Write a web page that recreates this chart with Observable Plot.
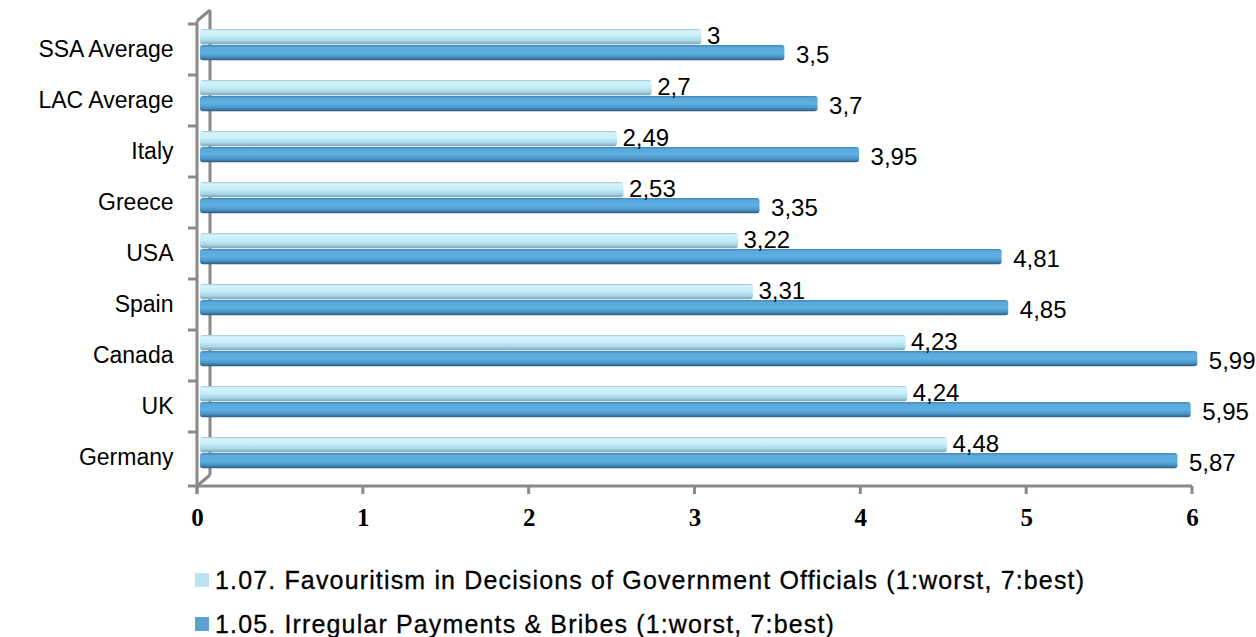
<!DOCTYPE html>
<html>
<head>
<meta charset="utf-8">
<script src="https://cdn.jsdelivr.net/npm/d3@7"></script>
<script src="https://cdn.jsdelivr.net/npm/@observablehq/plot@0.6"></script>
<style>
  body { margin: 0; background: #fff; font-family: "Liberation Sans", Arial, sans-serif; }
  #wrap { position: relative; width: 1256px; }
  #legend { position: relative; height: 92px; }
  .sw { position: absolute; width: 14px; height: 14px; }
  .lt { position: absolute; font-size: 25px; line-height: 25px; letter-spacing: 1.15px; color: #000; white-space: nowrap; -webkit-text-stroke: 0.3px #000; }
</style>
</head>
<body>
<div id="wrap"></div>
<script>
// ---- data ----
const categories = ["SSA Average", "LAC Average", "Italy", "Greece", "USA", "Spain", "Canada", "UK", "Germany"];
const favouritism = [3, 2.7, 2.49, 2.53, 3.22, 3.31, 4.23, 4.24, 4.48];
const bribes = [3.5, 3.7, 3.95, 3.35, 4.81, 4.85, 5.99, 5.95, 5.87];
const seriesNames = [
  "1.07. Favouritism in Decisions of Government Officials (1:worst, 7:best)",
  "1.05. Irregular Payments & Bribes (1:worst, 7:best)"
];
const xTicks = [0, 1, 2, 3, 4, 5, 6];

const favData = categories.map((c, i) => ({category: c, value: favouritism[i]}));
const bribeData = categories.map((c, i) => ({category: c, value: bribes[i]}));
const fmt = v => String(v).replace(".", ",");

// ---- layout ----
const W = 1256, H = 545;
const mt = 21, mb = 59, ml = 197, mr = 64;
const bw = (H - mt - mb) / categories.length;
const depthX = 13, depthY = -11;
const gray = "#8a8a8a";

const defs = () => {
  const ns = "http://www.w3.org/2000/svg";
  const d = document.createElementNS(ns, "defs");
  d.innerHTML = `
  <linearGradient id="gLight" x1="0" y1="0" x2="0" y2="1">
    <stop offset="0" stop-color="#9fc4d2"/>
    <stop offset="0.12" stop-color="#d6f4fc"/>
    <stop offset="0.45" stop-color="#c8eef9"/>
    <stop offset="0.75" stop-color="#a9d9ea"/>
    <stop offset="1" stop-color="#7d9fad"/>
  </linearGradient>
  <linearGradient id="gDark" x1="0" y1="0" x2="0" y2="1">
    <stop offset="0" stop-color="#3f86b6"/>
    <stop offset="0.15" stop-color="#5aa8dc"/>
    <stop offset="0.5" stop-color="#5fb0e3"/>
    <stop offset="0.78" stop-color="#4a94c6"/>
    <stop offset="1" stop-color="#2b5878"/>
  </linearGradient>`;
  return d;
};

const mkLine = (g, x1, y1, x2, y2) => {
  const l = document.createElementNS("http://www.w3.org/2000/svg", "line");
  l.setAttribute("x1", x1); l.setAttribute("y1", y1);
  l.setAttribute("x2", x2); l.setAttribute("y2", y2);
  l.setAttribute("stroke", gray); l.setAttribute("stroke-width", 3);
  g.appendChild(l);
};

// 3D back wall drawn through the plot's scales
const frame3d = (index, scales, values, dim) => {
  const g = document.createElementNS("http://www.w3.org/2000/svg", "g");
  const x0 = scales.x(0);
  const top = dim.marginTop, bottom = dim.height - dim.marginBottom;
  mkLine(g, x0 + depthX, top + depthY, x0 + depthX, bottom + depthY);
  mkLine(g, x0, top, x0 + depthX, top + depthY);
  mkLine(g, x0, bottom, x0 + depthX, bottom + depthY);
  return g;
};

const frontAxes = (index, scales, values, dim) => {
  const g = document.createElementNS("http://www.w3.org/2000/svg", "g");
  const x0 = scales.x(0);
  const top = dim.marginTop, bottom = dim.height - dim.marginBottom;
  const right = dim.width - dim.marginRight;
  mkLine(g, x0, top, x0, bottom + 8);
  mkLine(g, x0 - 9, bottom, right, bottom);
  for (const c of categories) { const y = scales.y(c); mkLine(g, x0 - 9, y, x0, y); }
  for (const t of xTicks) { const x = scales.x(t); mkLine(g, x, bottom, x, bottom + 8); }
  return g;
};

const chart = Plot.plot({
  width: W, height: H,
  marginTop: mt, marginBottom: mb, marginLeft: ml, marginRight: mr,
  style: {fontFamily: "'Liberation Sans', Arial, sans-serif", background: "#fff", overflow: "visible"},
  x: {domain: [0, 6], ticks: xTicks, axis: null, label: null},
  y: {domain: categories, padding: 0, axis: null, label: null},
  marks: [
    defs,
    frame3d,
    Plot.barX(favData, {y: "category", x1: 0, x2: "value", fill: "url(#gLight)", dx: 7, insetLeft: -4,
      insetTop: 5, insetBottom: bw - 21, rx: 3}),
    Plot.barX(bribeData, {y: "category", x1: 0, x2: "value", fill: "url(#gDark)", dx: 7, insetLeft: -4,
      insetTop: 21, insetBottom: bw - 37, rx: 3}),
    frontAxes,
    Plot.axisY({tickSize: 0, tickPadding: 24, fontSize: 23, fill: "#000", label: null, ariaLabel: "cat-labels"}),
    Plot.axisX({ticks: xTicks, tickSize: 0, tickPadding: 22, fontSize: 25, label: null, fontWeight: "bold",
      tickFormat: d => String(d),
      fontFamily: "'Liberation Serif', 'Times New Roman', serif", fill: "#000"}),
    Plot.text(favData, {y: "category", x: "value", text: d => fmt(d.value), textAnchor: "start",
      dx: 12, dy: -14, fontSize: 24, fill: "#000"}),
    Plot.text(bribeData, {y: "category", x: "value", text: d => fmt(d.value), textAnchor: "start",
      dx: 18, dy: 5, fontSize: 24, fill: "#000"})
  ]
});

d3.select(chart).selectAll('g[aria-label="cat-labels"] text').attr("letter-spacing", "1.6px");

const wrap = document.getElementById("wrap");
wrap.appendChild(chart);

const legendColors = ["#bde3f3", "#5aa3d1"];
const legend = document.createElement("div");
legend.id = "legend";
seriesNames.forEach((name, i) => {
  const sw = document.createElement("div");
  sw.className = "sw";
  sw.style.left = "195px";
  sw.style.top = (28 + i * 44) + "px";
  sw.style.background = legendColors[i];
  const t = document.createElement("div");
  t.className = "lt";
  t.style.left = "215px";
  t.style.top = (23 + i * 44) + "px";
  t.textContent = name;
  legend.appendChild(sw);
  legend.appendChild(t);
});
wrap.appendChild(legend);
</script>
</body>
</html>
